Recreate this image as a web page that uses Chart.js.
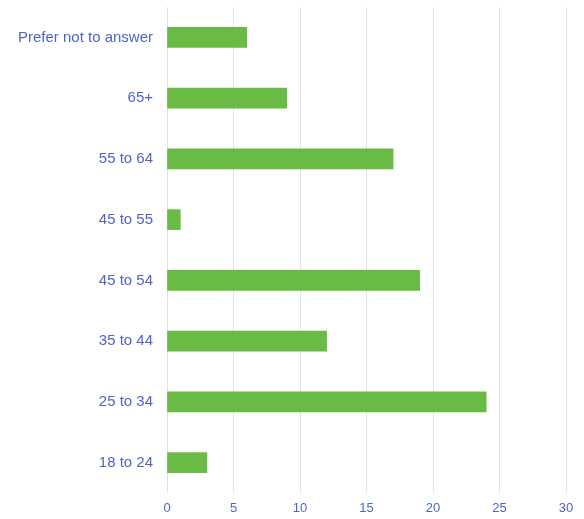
<!DOCTYPE html>
<html>
<head>
<meta charset="utf-8">
<script src="https://cdn.jsdelivr.net/npm/chart.js@4/dist/chart.umd.min.js"></script>
<style>
  html, body { margin: 0; padding: 0; background: #fff; }
  #wrap { width: 584px; height: 519px; position: relative; }
</style>
</head>
<body>
<div id="wrap"><canvas id="ageChart"></canvas></div>
<script>
// ========== DATA ==========
const ageGroups = [
  "Prefer not to answer", "65+", "55 to 64", "45 to 55",
  "45 to 54", "35 to 44", "25 to 34", "18 to 24",
];
const respondents = [6, 9, 17, 1, 19, 12, 24, 3];
const xTicks = [0, 5, 10, 15, 20, 25, 30];

const labelColor = "#5063c6";
const gridColor = "#dfe1f4";
const barColor = "#6abb46";

const ctx = document.getElementById("ageChart").getContext("2d");
new Chart(ctx, {
  type: "bar",
  data: {
    labels: ageGroups,
    datasets: [
      {
        label: "Respondents",
        data: respondents,
        backgroundColor: barColor,
        borderWidth: 0,
        barThickness: 20,
      },
    ],
  },
  options: {
    indexAxis: "y",
    responsive: true,
    maintainAspectRatio: false,
    animation: false,
    layout: { padding: { top: 7, right: 18, left: 0, bottom: 0 } },
    plugins: { legend: { display: false }, tooltip: { enabled: false } },
    scales: {
      x: {
        min: 0,
        max: 30,
        afterBuildTicks: (scale) => {
          scale.ticks = xTicks.map((v) => ({ value: v }));
        },
        afterFit: (scale) => { scale.height = 26; },
        grid: { color: gridColor, lineWidth: 1, drawTicks: false },
        border: { display: false },
        ticks: {
          color: labelColor,
          padding: 8,
          font: { family: "Liberation Sans, Arial", size: 13 },
        },
      },
      y: {
        // fixed label column; drop the label half-height padding so the plot starts near the top
        afterFit: (scale) => {
          scale.width = 167;
          scale.paddingTop = 0;
          scale.paddingBottom = 0;
        },
        grid: { display: false, drawTicks: false },
        border: { display: false },
        ticks: {
          color: labelColor,
          padding: 14,
          font: { family: "Liberation Sans, Arial", size: 15 },
        },
      },
    },
  },
});
</script>
</body>
</html>
